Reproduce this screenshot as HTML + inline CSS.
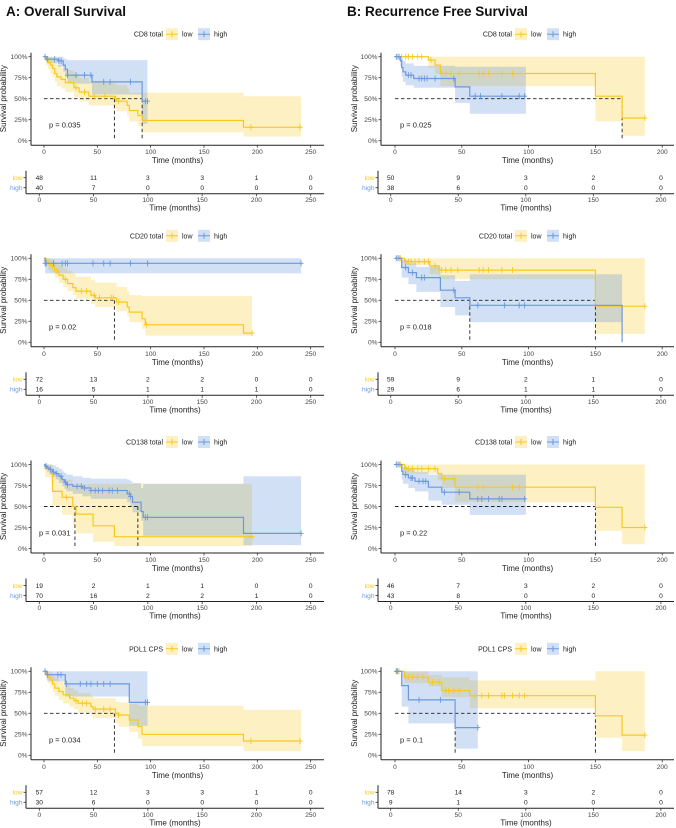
<!DOCTYPE html>
<html><head><meta charset="utf-8">
<style>
html,body{margin:0;padding:0;background:#fff;}
svg{display:block;font-family:"Liberation Sans",Arial,sans-serif;}
</style></head>
<body>
<svg id="fig" width="676" height="828" viewBox="0 0 676 828" xmlns="http://www.w3.org/2000/svg">
<text x="6" y="16" font-size="13.5" font-weight="bold" fill="#111">A: Overall Survival</text>
<text x="347" y="16" font-size="13.5" font-weight="bold" fill="#111">B: Recurrence Free Survival</text>
</svg>
<script>
// ---------- data ----------
const a1LowT=[2,4,6,8,10,12,16,20,28,33,42,66,68,78,80,88,92,187];
const a1LowS=[.96,.93,.90,.86,.80,.76,.73,.69,.63,.58,.53,.50,.47,.42,.36,.30,.24,.16];
const a1LowHi=[1,1,1,.99,.97,.93,.90,.87,.84,.79,.75,.70,.68,.66,.62,.57,.57,.57,.53];
const a1LowLo=[1,.90,.85,.80,.76,.70,.65,.62,.58,.52,.47,.42,.38,.35,.30,.23,.18,.10,.05];
const a1LowC=[30,38,47,57,67,70,194,240];
const a1HighT=[3,13,18,20,22,45,92];
const a1HighS=[.97,.95,.90,.85,.78,.70,.47];
const a1HighHi=[1,1,1,.98,.97,.96,.96,.96];
const a1HighLo=[1,.92,.88,.82,.76,.68,.55,.20];
const a1HighC=[1,3,10,14,16,22,30,38,44,56,62,81,95,97];

const a2LowT=[2,4,6,10,14,18,22,27,30,44,48,68,78,80,92,95,187];
const a2LowS=[.97,.93,.91,.85,.80,.75,.70,.65,.61,.56,.53,.48,.42,.36,.28,.21,.11];
const a2LowHi=[1,1,1,.99,.96,.92,.88,.85,.82,.78,.74,.71,.66,.61,.56,.55,.55,.55];
const a2LowLo=[1,.92,.86,.83,.77,.71,.66,.61,.56,.52,.46,.42,.37,.31,.24,.16,.08,.08];
const a2LowC=[2,8,12,20,35,40,47,52,63,65,70,96,195];
const a2HighT=[1];
const a2HighS=[.94];
const a2HighHi=[1,1];
const a2HighLo=[1,.82];
const a2HighC=[1,2,9,17,20,22,46,56,62,81,97,241];

const a3LowT=[1,7,8,17,27,30,46,66];
const a3LowS=[.95,.89,.68,.61,.50,.41,.27,.14];
const a3LowHi=[1,1,1,.88,.82,.77,.77,.77,.77];
const a3LowLo=[1,.85,.76,.50,.40,.28,.18,.08,.03];
const a3LowC=[21,195];
const a3HighT=[1,3,5,8,11,14,17,19,21,27,36,44,78,81,83,91,93,187];
const a3HighS=[.98,.96,.94,.91,.89,.86,.82,.79,.76,.74,.72,.69,.65,.62,.55,.44,.37,.18];
const a3HighHi=[1,1,1,1,.99,.97,.95,.92,.90,.88,.86,.84,.83,.82,.80,.78,.72,.77,.86];
const a3HighLo=[1,.94,.91,.88,.85,.82,.78,.74,.71,.68,.65,.62,.59,.55,.50,.43,.33,.15,.04];
const a3HighC=[2,6,9,12,16,20,22,31,35,38,44,48,51,55,61,64,69,80,81,95,97,241];

const a4LowT=[2,4,6,8,10,14,18,24,28,32,44,46,67,70,80,88,92,187];
const a4LowS=[.96,.93,.90,.85,.80,.76,.72,.68,.65,.62,.58,.55,.50,.48,.42,.34,.25,.17];
const a4LowHi=[1,1,1,.99,.96,.92,.88,.84,.80,.77,.74,.71,.68,.64,.63,.61,.59,.59,.54];
const a4LowLo=[1,.90,.86,.81,.76,.71,.66,.62,.58,.55,.51,.47,.44,.38,.34,.28,.20,.11,.05];
const a4LowC=[30,36,40,48,56,62,67,70,194,240];
const a4HighT=[3,20,80];
const a4HighS=[.96,.85,.63];
const a4HighHi=[1,1,1,1];
const a4HighLo=[1,.88,.70,.35];
const a4HighC=[1,3,13,16,21,34,40,44,50,56,62,95,97];

const b1LowT=[25,30,34,150,170];
const b1LowS=[.96,.90,.80,.53,.27];
const b1LowHi=[1,1,1,1,1,1];
const b1LowLo=[1,.87,.79,.65,.23,.06];
const b1LowC=[2,5,8,10,13,17,20,27,35,38,42,48,63,66,70,80,88,187];
const b1HighT=[4,5,6,8,14,45,56];
const b1HighS=[.95,.87,.82,.78,.74,.64,.53];
const b1HighHi=[1,1,.98,.95,.92,.89,.88,.88];
const b1HighLo=[1,.88,.76,.70,.66,.63,.45,.32];
const b1HighC=[1,3,10,12,18,20,22,24,30,44,60,64,80,93,97];

const b2LowT=[7,26,33,150];
const b2LowS=[.96,.91,.86,.43];
const b2LowHi=[1,1,1,1,1];
const b2LowLo=[1,.92,.81,.75,.10];
const b2LowC=[2,4,8,10,12,15,18,22,25,30,35,38,42,47,63,66,70,80,88,187];
const b2HighT=[5,10,16,34,45,56,170];
const b2HighS=[.89,.83,.77,.62,.53,.44,0];
const b2HighHi=[1,.98,.94,.90,.80,.73,.81,0];
const b2HighLo=[1,.77,.69,.60,.42,.32,.24,0];
const b2HighC=[1,3,8,13,20,22,44,62,82,93,97];

const b3LowT=[7,32,35,45,150,170];
const b3LowS=[.95,.89,.83,.73,.49,.25];
const b3LowHi=[1,1,1,1,1,1,1];
const b3LowLo=[1,.89,.81,.72,.55,.21,.05];
const b3LowC=[2,4,8,10,13,17,20,25,30,37,44,62,66,88,93,187];
const b3HighT=[5,6,10,15,25,35,56];
const b3HighS=[.92,.88,.84,.80,.73,.67,.59];
const b3HighHi=[1,.99,.97,.94,.91,.88,.88,.88];
const b3HighLo=[1,.82,.77,.72,.68,.57,.52,.40];
const b3HighC=[1,3,8,12,13,18,21,23,37,48,62,65,70,78,80,97];

const b4LowT=[7,25,35,56,150,170];
const b4LowS=[.93,.87,.77,.71,.47,.24];
const b4LowHi=[1,1,.96,.93,.89,1,1];
const b4LowLo=[1,.86,.82,.69,.56,.21,.05];
const b4LowC=[1,3,8,10,13,17,21,28,33,38,40,44,48,60,65,70,80,82,88,93,97,187];
const b4HighT=[5,10,45];
const b4HighS=[.83,.66,.33];
const b4HighHi=[1,1,1,1];
const b4HighLo=[1,.58,.38,.08];
const b4HighC=[1,2,18,34,62];

const legendTitles=["CD8 total","CD20 total","CD138 total","PDL1 CPS"];
const pValsA=["p = 0.035","p = 0.02","p = 0.031","p = 0.034"];
const pValsB=["p = 0.025","p = 0.018","p = 0.22","p = 0.1"];
const mediansA=[[66,92],[66],[29,88],[66]];
const mediansB=[[170],[56,150],[150],[45,150]];
const riskLowA=[[48,11,3,3,1,0],[72,13,2,2,0,0],[19,2,1,1,0,0],[57,12,3,3,1,0]];
const riskHighA=[[40,7,0,0,0,0],[16,5,1,1,1,0],[70,16,2,2,1,0],[30,6,0,0,0,0]];
const riskLowB=[[50,9,3,2,0],[59,9,2,1,0],[46,7,3,2,0],[78,14,3,2,0]];
const riskHighB=[[38,6,0,0,0],[29,6,1,1,0],[43,8,0,0,0],[9,1,0,0,0]];
const endsA=[[241,97],[195,241],[195,241],[241,97]];
const endsB=[[187,98],[187,170],[187,98],[187,62]];
const yTicks=[0,.25,.5,.75,1];
const yTickLabels=["0%","25%","50%","75%","100%"];
const xTicksA=[0,50,100,150,200,250];
const xTicksB=[0,50,100,150,200];

const curvesA=[
 [{t:a1LowT,s:a1LowS,hi:a1LowHi,lo:a1LowLo,c:a1LowC},{t:a1HighT,s:a1HighS,hi:a1HighHi,lo:a1HighLo,c:a1HighC}],
 [{t:a2LowT,s:a2LowS,hi:a2LowHi,lo:a2LowLo,c:a2LowC},{t:a2HighT,s:a2HighS,hi:a2HighHi,lo:a2HighLo,c:a2HighC}],
 [{t:a3LowT,s:a3LowS,hi:a3LowHi,lo:a3LowLo,c:a3LowC},{t:a3HighT,s:a3HighS,hi:a3HighHi,lo:a3HighLo,c:a3HighC}],
 [{t:a4LowT,s:a4LowS,hi:a4LowHi,lo:a4LowLo,c:a4LowC},{t:a4HighT,s:a4HighS,hi:a4HighHi,lo:a4HighLo,c:a4HighC}]];
const curvesB=[
 [{t:b1LowT,s:b1LowS,hi:b1LowHi,lo:b1LowLo,c:b1LowC},{t:b1HighT,s:b1HighS,hi:b1HighHi,lo:b1HighLo,c:b1HighC}],
 [{t:b2LowT,s:b2LowS,hi:b2LowHi,lo:b2LowLo,c:b2LowC},{t:b2HighT,s:b2HighS,hi:b2HighHi,lo:b2HighLo,c:b2HighC}],
 [{t:b3LowT,s:b3LowS,hi:b3LowHi,lo:b3LowLo,c:b3LowC},{t:b3HighT,s:b3HighS,hi:b3HighHi,lo:b3HighLo,c:b3HighC}],
 [{t:b4LowT,s:b4LowS,hi:b4LowHi,lo:b4LowLo,c:b4LowC},{t:b4HighT,s:b4HighS,hi:b4HighHi,lo:b4HighLo,c:b4HighC}]];

// ---------- drawing ----------
const NS="http://www.w3.org/2000/svg";
const svg=document.getElementById('fig');
const YEL="#F8C91C", BLU="#6B98DE";
const rowTop=[56.7,258.3,464.5,671.3];
function mk(tag,attrs,parent,txt){const e=document.createElementNS(NS,tag);for(const k in attrs)e.setAttribute(k,attrs[k]);if(txt!==undefined)e.textContent=txt;(parent||svg).appendChild(e);return e;}
function survAt(cv,t){let s=1;for(let i=0;i<cv.t.length;i++){if(cv.t[i]<=t)s=cv.s[i];}return s;}

function panel(side,row){
  const L=side==='A';
  const y0=rowTop[row];
  const ax=L?31:381, axEnd=L?324:674, x0=L?44:395, kx=L?1.0667:1.336;
  const X=t=>x0+t*kx, Y=s=>y0+(1-s)*84;
  const g=mk('g',{});
  
  
  const curves=L?curvesA[row]:curvesB[row];
  const ends=L?endsA[row]:endsB[row];
  const cols=[YEL,BLU];
  // ribbons
  curves.forEach((cv,k)=>{
    const bounds=[0].concat(cv.t).concat([ends[k]]);
    let up=[],dn=[];
    for(let i=0;i<bounds.length-1;i++){
      up.push([X(bounds[i]),Y(cv.hi[i])],[X(bounds[i+1]),Y(cv.hi[i])]);
      dn.push([X(bounds[i]),Y(cv.lo[i])],[X(bounds[i+1]),Y(cv.lo[i])]);
    }
    const pts=up.concat(dn.reverse()).map(p=>p[0].toFixed(1)+','+p[1].toFixed(1)).join(' ');
    const r=mk('polygon',{points:pts,fill:cols[k],'fill-opacity':k?0.3:0.27,stroke:'none'},g);
    
    
  });
  // medians
  const meds=L?mediansA[row]:mediansB[row];
  const mx=Math.max.apply(null,meds);
  const hl=mk('line',{x1:X(0),x2:X(mx),y1:Y(.5),y2:Y(.5),stroke:'#222','stroke-width':0.9,'stroke-dasharray':'3.5,2.5'},g);
  
  
  meds.forEach(m=>{
    const vl=mk('line',{x1:X(m),x2:X(m),y1:Y(.5),y2:Y(0),stroke:'#222','stroke-width':0.9,'stroke-dasharray':'3.5,2.5'},g);
    
    
  });
  // curves
  curves.forEach((cv,k)=>{
    let d='M'+X(0)+','+Y(1);let s=1;
    cv.t.forEach((t,i)=>{d+=' H'+X(t).toFixed(1)+' V'+Y(cv.s[i]).toFixed(1);s=cv.s[i];});
    d+=' H'+X(ends[k]).toFixed(1);
    const p=mk('path',{d:d,fill:'none',stroke:cols[k],'stroke-width':1.2},g);
    
    
    cv.c.forEach(t=>{
      const cx=X(t),cy=Y(survAt(cv,t));
      const m=mk('path',{d:`M${cx-2.5},${cy}H${cx+2.5}M${cx},${cy-3}V${cy+3}`,stroke:cols[k],'stroke-width':0.9},g);
      
      
    });
  });
  // axes
  const ya=mk('line',{x1:ax,x2:ax,y1:y0-4,y2:y0+88.5,stroke:'#222','stroke-width':1},g);
  
  
  const xa=mk('line',{x1:ax,x2:axEnd,y1:y0+88.5,y2:y0+88.5,stroke:'#222','stroke-width':1},g);
  
  
  yTicks.forEach((v,i)=>{
    const tk=mk('line',{x1:ax-2.5,x2:ax,y1:Y(v),y2:Y(v),stroke:'#333','stroke-width':0.8},g);
    
    
    const tl=mk('text',{x:ax-3.5,y:Y(v)+2.3,'font-size':6.6,fill:'#444','text-anchor':'end'},g,yTickLabels[i]);
    
    
  });
  const xt=L?xTicksA:xTicksB;
  xt.forEach(v=>{
    const tk=mk('line',{x1:X(v),x2:X(v),y1:y0+88.5,y2:y0+91,stroke:'#333','stroke-width':0.8},g);
    
    
    const tl=mk('text',{x:X(v),y:y0+97.5,'font-size':6.6,fill:'#444','text-anchor':'middle'},g,String(v));
    
    
  });
  const xcen=(ax+axEnd)/2;
  const xt1=mk('text',{x:xcen,y:y0+106.5,'font-size':8,fill:'#222','text-anchor':'middle'},g,'Time (months)');
  
  
  const ylx=L?6:357, yly=y0+42;
  const yt=mk('text',{x:ylx,y:yly,'font-size':8,fill:'#222','text-anchor':'middle',transform:`rotate(-90 ${ylx} ${yly})`},g,'Survival probability');
  
  
  const pv=mk('text',{x:L?(row===2?39:49):400,y:y0+71,'font-size':7.5,fill:'#222'},g,(L?pValsA:pValsB)[row]);
  
  
  // legend
  const ly=y0-22.5, le=L?163:512;
  const lt=mk('text',{x:le,y:ly+2.5,'font-size':7,fill:'#222','text-anchor':'end'},g,legendTitles[row]);
  
  
  [['low',le+3],['high',le+35]].forEach((it,k)=>{
    const bx=it[1];
    const kb=mk('rect',{x:bx,y:ly-6,width:12,height:12,fill:cols[k],'fill-opacity':k?0.3:0.27},g);
    
    
    const kl=mk('path',{d:`M${bx},${ly}H${bx+12}M${bx+6},${ly-3}V${ly+3}`,stroke:cols[k],'stroke-width':1},g);
    
    
    const kt=mk('text',{x:bx+16,y:ly+2.5,'font-size':7,fill:'#222'},g,it[0]);
    
    
  });
  // risk table
  const rax=L?26:378, r0=L?39.3:390.7, rk=L?1.0857:1.351;
  const RX=t=>r0+t*rk;
  const rl=L?riskLowA[row]:riskLowB[row], rh=L?riskHighA[row]:riskHighB[row];
  [[rl,'low',YEL,y0+121],[rh,'high',BLU,y0+131]].forEach(r=>{
    const lab=mk('text',{x:rax-3.5,y:r[3]+2.3,'font-size':6.6,fill:r[2],'text-anchor':'end'},g,r[1]);
    
    
    const tk=mk('line',{x1:rax-2.5,x2:rax,y1:r[3],y2:r[3],stroke:'#333','stroke-width':0.8},g);
    
    
    r[0].forEach((n,i)=>{
      const nt=mk('text',{x:RX(xt[i]),y:r[3]+2.3,'font-size':6.6,fill:'#222','text-anchor':'middle'},g,String(n));
      
      
    });
  });
  const rv=mk('line',{x1:rax,x2:rax,y1:y0+114,y2:y0+137,stroke:'#222','stroke-width':1},g);
  
  
  const rhz=mk('line',{x1:rax,x2:axEnd,y1:y0+137,y2:y0+137,stroke:'#222','stroke-width':1},g);
  
  
  xt.forEach(v=>{
    const tk=mk('line',{x1:RX(v),x2:RX(v),y1:y0+137,y2:y0+139.5,stroke:'#333','stroke-width':0.8},g);
    
    
    const tl=mk('text',{x:RX(v),y:y0+145.5,'font-size':6.6,fill:'#444','text-anchor':'middle'},g,String(v));
    
    
  });
  const rt=mk('text',{x:(rax+axEnd)/2,y:y0+154,'font-size':8,fill:'#222','text-anchor':'middle'},g,'Time (months)');
  
  
}
for(let r=0;r<4;r++){panel('A',r);panel('B',r);}
</script>
</body></html>
